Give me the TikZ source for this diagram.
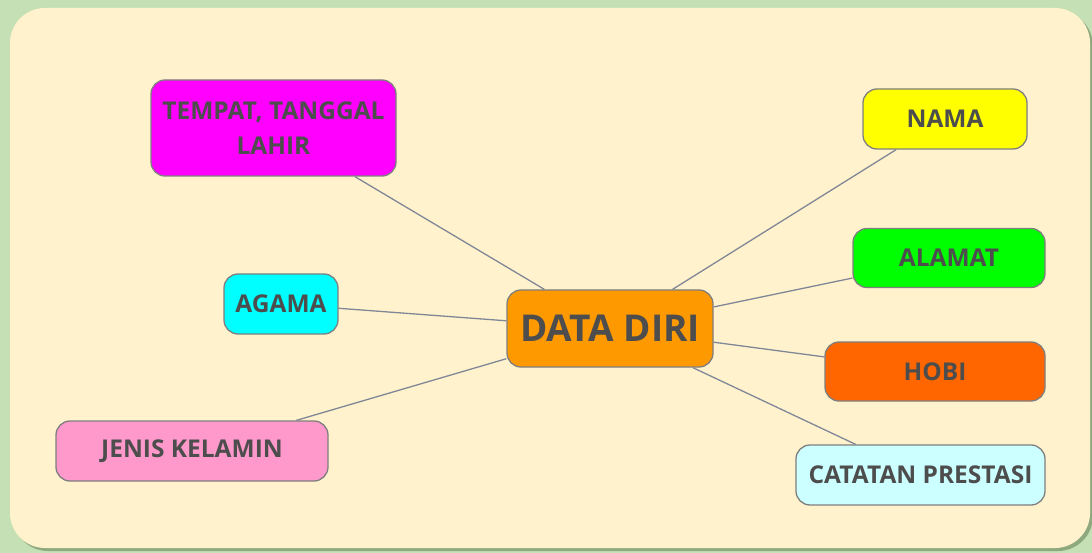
\documentclass[tikz,border=0pt]{standalone}
\usepackage{fontspec}
\setmainfont{Open Sans}
\definecolor{outerbg}{HTML}{C5E0B4}
\definecolor{panel}{HTML}{FFF2CC}
\definecolor{panelshadow}{HTML}{8FA97F}
\definecolor{txt}{HTML}{4D4D4D}
\definecolor{edge}{HTML}{808898}
\definecolor{border}{HTML}{7F7F7F}
\definecolor{cmag}{HTML}{FF00FF}
\definecolor{cyel}{HTML}{FFFF00}
\definecolor{cgrn}{HTML}{00FF00}
\definecolor{corg}{HTML}{FF6600}
\definecolor{ccat}{HTML}{CCFFFF}
\definecolor{ccyan}{HTML}{00FFFF}
\definecolor{cpink}{HTML}{FF99CC}
\definecolor{ccenter}{HTML}{FF9900}
\tikzset{
  topic/.style={draw=border, line width=1.3pt, rounded corners=14pt, inner sep=0pt,
    text=txt, font=\bfseries\fontsize{24.5}{35}\selectfont, align=center},
  link/.style={draw=edge, line width=1.3pt},
}
\begin{document}
\begin{tikzpicture}[x=1pt,y=-1pt]
\useasboundingbox (0,0) rectangle (1092,553);
\fill[outerbg] (0,0) rectangle (1092,553);
\fill[panelshadow, rounded corners=35pt] (13,11) rectangle (1093,551);
\fill[panel, rounded corners=35pt] (10,8) rectangle (1090,548);

\node[topic, fill=ccenter, minimum width=206pt, minimum height=77pt, font=\bfseries\fontsize{37}{44}\selectfont] (center) at (610,328.5) {DATA DIRI};
\node[topic, fill=cmag, minimum width=245pt, minimum height=96pt] (tempat) at (273.5,128) {TEMPAT, TANGGAL\\LAHIR};
\node[topic, fill=cyel, minimum width=164pt, minimum height=60pt] (nama) at (945,119) {NAMA};
\node[topic, fill=cgrn, minimum width=192pt, minimum height=59pt] (alamat) at (949,258) {ALAMAT};
\node[topic, fill=corg, minimum width=220pt, minimum height=59pt] (hobi) at (935,371.5) {HOBI};
\node[topic, fill=ccat, minimum width=249pt, minimum height=60pt] (catatan) at (920.5,475) {CATATAN PRESTASI};
\node[topic, fill=ccyan, minimum width=114pt, minimum height=60pt] (agama) at (281,304) {AGAMA};
\node[topic, fill=cpink, minimum width=272pt, minimum height=60pt] (jenis) at (192,451) {JENIS KELAMIN};

\foreach \n in {tempat,nama,alamat,hobi,catatan,agama,jenis}
  \draw[link] (center) -- (\n);
\end{tikzpicture}
\end{document}
